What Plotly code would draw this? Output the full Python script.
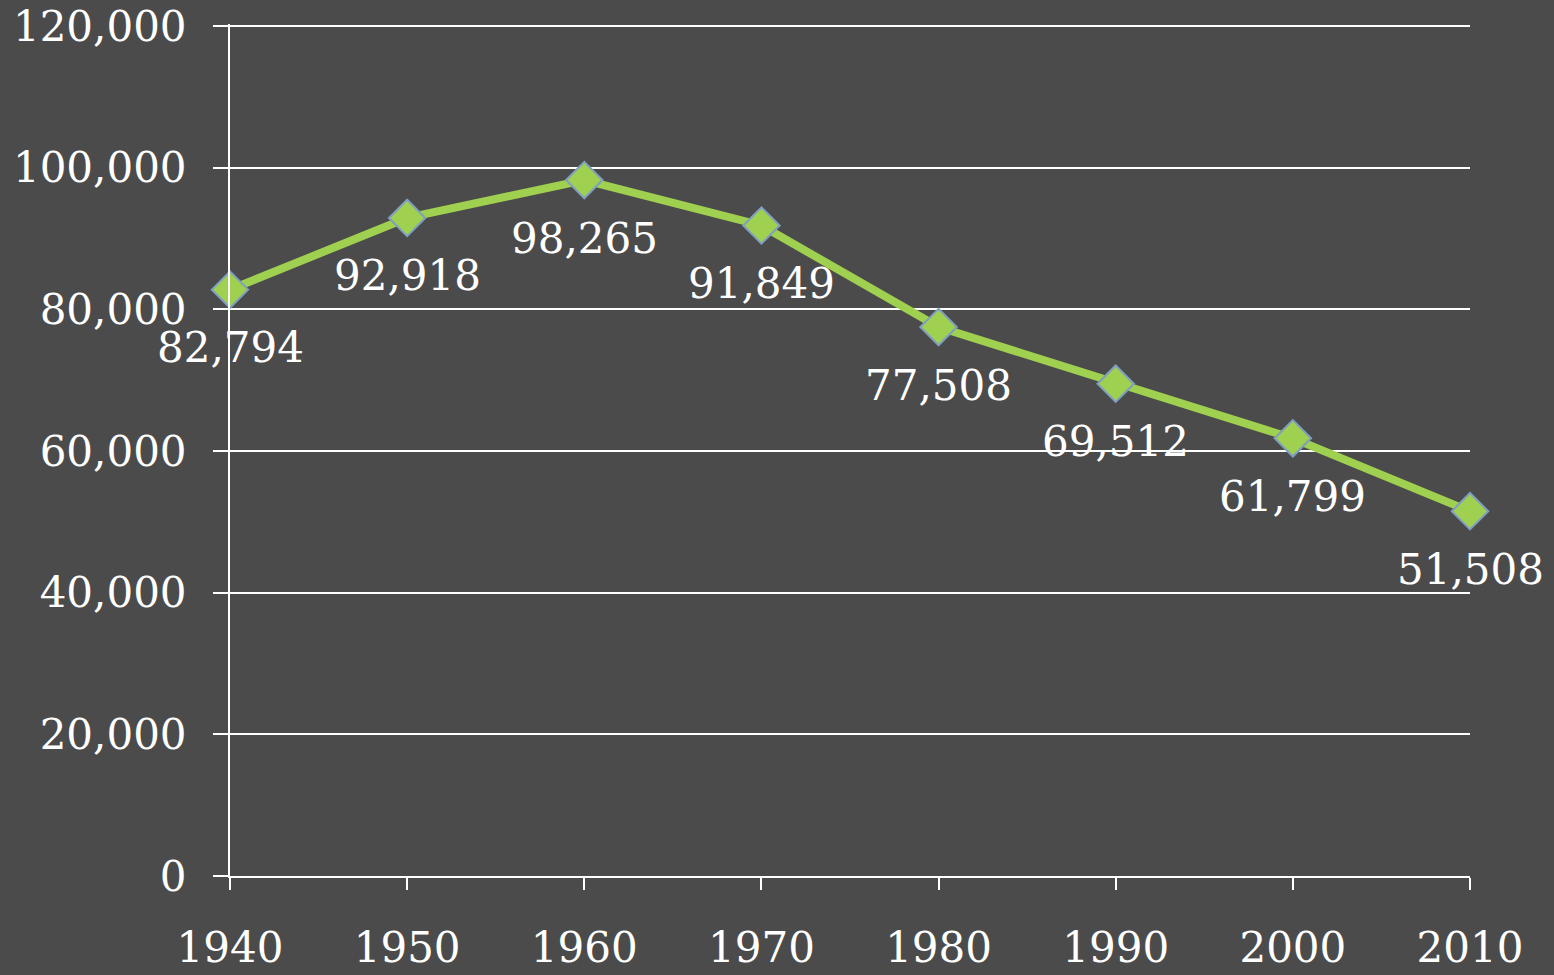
import plotly.graph_objects as go

years = [1940, 1950, 1960, 1970, 1980, 1990, 2000, 2010]
population = [82794, 92918, 98265, 91849, 77508, 69512, 61799, 51508]
y_ticks = [0, 20000, 40000, 60000, 80000, 100000, 120000]

BG = "#4b4b4b"
FONT = "DejaVu Serif"

fig = go.Figure()
fig.add_trace(go.Scatter(
    x=years, y=population, mode="lines+markers",
    line=dict(color="#9fd050", width=8),
    marker=dict(symbol="diamond", size=28, color="#9fd050",
                line=dict(color="#7f9fc2", width=2)),
    cliponaxis=False, showlegend=False,
))

for xv, yv in zip(years, population):
    fig.add_annotation(x=xv, y=yv, text=f"{yv:,}", showarrow=False,
                       yshift=-58, font=dict(family=FONT, size=42, color="white"))

fig.update_layout(
    template="none",
    width=1554, height=975,
    paper_bgcolor=BG, plot_bgcolor=BG,
    margin=dict(l=230, r=84, t=24, b=99, autoexpand=False),
    font=dict(family=FONT, size=42, color="white"),
    xaxis=dict(range=[1940, 2010], tickvals=years, showgrid=False,
               showline=True, linecolor="white", linewidth=2,
               ticks="outside", ticklen=12, tickwidth=2, tickcolor="white",
               ticklabelstandoff=22, zeroline=False, automargin=False),
    yaxis=dict(range=[0, 120300], tickvals=y_ticks, tickformat=",",
               showgrid=True, gridcolor="white", gridwidth=2,
               showline=True, linecolor="white", linewidth=2,
               ticks="outside", ticklen=15, tickwidth=2, tickcolor="white",
               ticklabelstandoff=18, zeroline=False, automargin=False),
)

fig.write_html("out.html", config={"displayModeBar": False},
               post_script="document.body.style.margin='0';document.body.style.background='#4b4b4b';")
